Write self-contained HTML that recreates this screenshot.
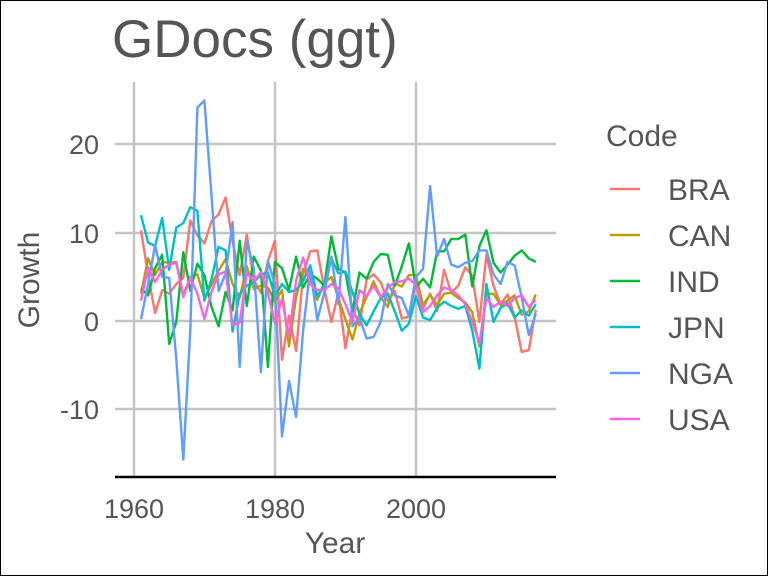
<!DOCTYPE html>
<html><head><meta charset="utf-8"><style>
html,body{margin:0;padding:0;background:#fff}
svg{display:block}
text{font-family:"Liberation Sans",sans-serif;fill:#555}
</style></head><body>
<svg id="s" width="768" height="576" viewBox="0 0 768 576">
<rect x="0.5" y="0.5" width="767" height="575" fill="#fff" stroke="#000" stroke-width="1"/>
<text x="112" y="57" font-size="53">GDocs (ggt)</text>
<g stroke="#c4c4c4" stroke-width="2.5">
<line x1="115" x2="556" y1="144" y2="144"/>
<line x1="115" x2="556" y1="233" y2="233"/>
<line x1="115" x2="556" y1="321" y2="321"/>
<line x1="115" x2="556" y1="409" y2="409"/>
<line x1="134" x2="134" y1="82" y2="477"/>
<line x1="275" x2="275" y1="82" y2="477"/>
<line x1="416" x2="416" y1="82" y2="477"/>
</g>
<line x1="115" x2="556" y1="477" y2="477" stroke="#000" stroke-width="2.5"/>
<g font-size="27" text-anchor="end">
<text x="99" y="154">20</text><text x="99" y="243">10</text><text x="99" y="331">0</text><text x="99" y="419">-10</text>
</g>
<g font-size="27" text-anchor="middle">
<text x="134" y="518">1960</text><text x="275" y="518">1980</text><text x="416" y="518">2000</text>
<text x="335" y="553" font-size="30">Year</text>
</g>
<text transform="translate(39,280) rotate(-90)" font-size="30" text-anchor="middle">Growth</text>
<g id="lines" fill="none" stroke-width="2.4" stroke-linejoin="round"></g>
<text x="606" y="146" font-size="30">Code</text>
<g id="leg" font-size="30"></g>
</svg>
<script>
var D={
BRA:[10.3,5.2,0.9,3.5,3.1,4.2,4.9,11.4,9.7,8.8,11.3,12.1,14.0,9.0,5.2,9.8,4.6,3.2,6.8,9.1,-4.4,0.6,-3.4,5.3,7.9,8.0,3.6,-0.1,3.2,-3.1,1.5,-0.5,4.7,5.3,4.4,2.2,3.4,0.3,0.5,4.4,1.4,3.1,1.1,5.8,3.2,4.0,6.1,5.1,-0.1,7.5,4.0,1.9,3.0,0.5,-3.5,-3.3,1.3],
CAN:[3.1,7.1,5.2,6.7,6.6,6.7,2.9,5.0,5.3,2.6,4.1,5.7,7.0,4.2,2.6,6.2,3.6,4.0,3.8,2.2,3.5,-2.9,2.7,5.9,4.8,2.4,4.3,5.0,2.6,0.2,-2.1,0.9,2.7,4.5,2.7,1.6,4.3,3.9,5.2,5.2,1.8,3.0,1.8,3.1,3.2,2.6,2.1,1.0,-2.9,3.1,3.1,1.8,2.3,2.9,0.7,1.1,3.0],
IND:[3.7,2.9,6.0,7.5,-2.6,-0.1,7.8,3.4,6.5,5.2,1.6,-0.6,3.3,1.2,9.1,1.7,7.3,5.7,-5.2,6.7,6.0,3.5,7.3,3.8,5.3,4.8,4.0,9.6,5.9,5.5,1.1,5.5,4.8,6.7,7.6,7.5,4.0,6.2,8.8,3.8,4.8,3.8,7.9,7.9,9.3,9.3,9.8,3.9,8.5,10.3,6.6,5.5,6.4,7.4,8.0,7.1,6.7],
JPN:[12.0,8.9,8.5,11.7,5.8,10.6,11.1,12.9,12.5,2.3,4.7,8.4,8.0,-1.2,3.1,4.0,4.4,5.3,5.5,2.8,4.2,3.3,3.5,4.5,6.3,2.8,4.1,7.1,5.4,5.6,3.3,0.8,-0.5,1.1,2.6,3.1,1.1,-1.1,-0.3,2.8,0.4,0.1,1.5,2.2,1.7,1.4,1.7,-1.1,-5.4,4.2,-0.1,1.5,2.0,0.4,1.2,0.6,1.9],
NGA:[0.2,4.2,8.6,5.0,4.9,-4.3,-15.7,-1.0,24.2,25.0,14.2,3.4,5.4,11.2,-5.2,9.0,6.0,-5.8,6.8,4.2,-13.1,-6.8,-10.9,-1.1,5.9,0.1,3.2,7.3,1.9,11.8,-0.6,0.4,-2.0,-1.8,-0.1,4.2,2.9,2.6,0.6,5.0,5.9,15.3,7.3,9.3,6.4,6.1,6.6,6.8,8.0,8.0,5.3,4.2,6.7,6.3,2.7,-1.6,0.8],
USA:[2.3,6.1,4.4,5.8,6.4,6.6,2.7,4.9,3.1,0.2,3.3,5.3,5.6,-0.5,-0.2,5.4,4.6,5.5,3.2,-0.3,2.5,-1.8,4.6,7.2,4.2,3.5,3.5,4.2,3.7,1.9,-0.1,3.5,2.8,4.0,2.7,3.8,4.4,4.5,4.8,4.1,1.0,1.7,2.9,3.8,3.5,2.9,1.9,-0.1,-2.5,2.6,1.6,2.2,1.7,2.6,2.9,1.6,2.4]};
var C={BRA:"#F8766D",CAN:"#B79F00",IND:"#00BA38",JPN:"#00BFC4",NGA:"#619CFF",USA:"#F564E3"};
var g=document.getElementById("lines"),L=document.getElementById("leg"),ns="http://www.w3.org/2000/svg",k=0;
for(var c in D){var p=D[c].map(function(v,i){return (141+i*7.05).toFixed(1)+","+(321-v*8.82).toFixed(1)}).join(" ");
var e=document.createElementNS(ns,"polyline");e.setAttribute("points",p);e.setAttribute("stroke",C[c]);g.appendChild(e);
var y=189+k*46;var l=document.createElementNS(ns,"line");l.setAttribute("x1",610);l.setAttribute("x2",640);l.setAttribute("y1",y);l.setAttribute("y2",y);l.setAttribute("stroke",C[c]);l.setAttribute("stroke-width","2.4");L.appendChild(l);
var t=document.createElementNS(ns,"text");t.setAttribute("x",668);t.setAttribute("y",y+11);t.setAttribute("font-size","30");t.textContent=c;L.appendChild(t);k++;}
</script>
</body></html>
